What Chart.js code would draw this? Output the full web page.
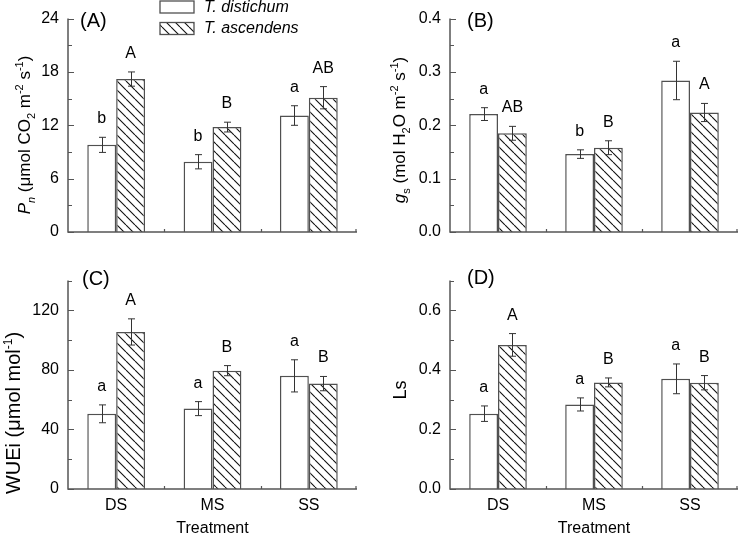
<!DOCTYPE html>
<html>
<head>
<meta charset="utf-8">
<script src="https://cdn.jsdelivr.net/npm/chart.js@4"></script>
<style>
html,body{margin:0;padding:0;background:#fff;width:739px;height:535px;overflow:hidden;}
canvas{position:absolute;}
</style>
</head>
<body>
<canvas id="cA" width="370" height="262" style="left:0;top:0;width:370px;height:262px"></canvas>
<canvas id="cB" width="369" height="262" style="left:370px;top:0;width:369px;height:262px"></canvas>
<canvas id="cC" width="370" height="273" style="left:0;top:262px;width:370px;height:273px"></canvas>
<canvas id="cD" width="369" height="273" style="left:370px;top:262px;width:369px;height:273px"></canvas>
<script>
// ---------------- data ----------------
const treatments = ['DS', 'MS', 'SS'];
const speciesNames = ['T. distichum', 'T. ascendens'];
const xAxisTitle = 'Treatment';

// (A) Net photosynthetic rate Pn
const pnDistichum = [9.8, 7.9, 13.1];
const pnDistichumSE = [0.85, 0.8, 1.1];
const pnAscendens = [17.2, 11.8, 15.1];
const pnAscendensSE = [0.8, 0.55, 1.25];
const pnDistichumLetters = ['b', 'b', 'a'];
const pnAscendensLetters = ['A', 'B', 'AB'];
const pnTicks = [0, 6, 12, 18, 24];
const pnMax = 24;

// (B) Stomatal conductance gs
const gsDistichum = [0.221, 0.146, 0.284];
const gsDistichumSE = [0.012, 0.008, 0.036];
const gsAscendens = [0.185, 0.158, 0.224];
const gsAscendensSE = [0.013, 0.013, 0.017];
const gsDistichumLetters = ['a', 'b', 'a'];
const gsAscendensLetters = ['AB', 'B', 'A'];
const gsTicks = [0, 0.1, 0.2, 0.3, 0.4];
const gsMax = 0.4;

// (C) Intrinsic water use efficiency WUEi
const wueDistichum = [50.5, 54, 76];
const wueDistichumSE = [6, 4.7, 10.8];
const wueAscendens = [105.5, 79.5, 70.8];
const wueAscendensSE = [8.8, 3.4, 4.8];
const wueDistichumLetters = ['a', 'a', 'a'];
const wueAscendensLetters = ['A', 'B', 'B'];
const wueTicks = [0, 40, 80, 120];
const wueMax = 140;

// (D) Stomatal limitation Ls
const lsDistichum = [0.253, 0.284, 0.37];
const lsDistichumSE = [0.026, 0.022, 0.05];
const lsAscendens = [0.484, 0.358, 0.357];
const lsAscendensSE = [0.038, 0.015, 0.024];
const lsDistichumLetters = ['a', 'a', 'a'];
const lsAscendensLetters = ['A', 'B', 'B'];
const lsTicks = [0, 0.2, 0.4, 0.6];
const lsMax = 0.7;

// ---------------- styling ----------------
const FONT = '"Liberation Sans", Arial, Helvetica, sans-serif';
const EDGE = '#505050';
const AXIS = '#555555';
Chart.defaults.font.family = FONT;
Chart.defaults.color = '#000';

function makeHatch() {
  const s = 9;
  const c = document.createElement('canvas');
  c.width = s; c.height = s;
  const g = c.getContext('2d');
  g.fillStyle = '#fff';
  g.fillRect(0, 0, s, s);
  g.strokeStyle = '#111';
  g.lineWidth = 1.1;
  g.beginPath();
  for (let k = -1; k <= 1; k++) {
    g.moveTo(k * s, 0);
    g.lineTo(k * s + s, s);
  }
  g.stroke();
  return g.createPattern(c, 'repeat');
}
const hatch = makeHatch();

function fontStr(seg, size) {
  return (seg.i ? 'italic ' : '') + size + 'px ' + FONT;
}

function drawRich(ctx, segs, cx, cy, size) {
  ctx.save();
  ctx.translate(cx, cy);
  ctx.rotate(-Math.PI / 2);
  const small = Math.round(size * 0.62);
  let w = 0;
  const widths = segs.map(s => {
    ctx.font = fontStr(s, (s.sub || s.sup) ? small : size);
    const m = ctx.measureText(s.t).width;
    w += m;
    return m;
  });
  let x = -w / 2;
  const base = size * 0.36;
  ctx.textAlign = 'left';
  ctx.textBaseline = 'alphabetic';
  ctx.fillStyle = '#000';
  segs.forEach((s, k) => {
    ctx.font = fontStr(s, (s.sub || s.sup) ? small : size);
    const dy = s.sub ? size * 0.28 : (s.sup ? -size * 0.42 : 0);
    ctx.fillText(s.t, x, base + dy);
    x += widths[k];
  });
  ctx.restore();
}

function makeDecor(p) {
  return {
    id: 'decor' + p.tag,
    afterDraw(chart) {
      const ctx = chart.ctx;
      const xs = chart.scales.x, ys = chart.scales.y;
      const a = chart.chartArea;
      ctx.save();
      // error bars and significance letters
      chart.data.datasets.forEach((ds, di) => {
        const meta = chart.getDatasetMeta(di);
        meta.data.forEach((bar, i) => {
          const v = ds.data[i], e = ds.errors[i];
          const yt = ys.getPixelForValue(v + e);
          const yb = ys.getPixelForValue(v - e);
          const x = Math.round(bar.x) + 0.5;
          ctx.strokeStyle = '#333';
          ctx.lineWidth = 1;
          ctx.beginPath();
          ctx.moveTo(x, yt); ctx.lineTo(x, yb);
          ctx.moveTo(x - 3.5, yt); ctx.lineTo(x + 3.5, yt);
          ctx.moveTo(x - 3.5, yb); ctx.lineTo(x + 3.5, yb);
          ctx.stroke();
          ctx.fillStyle = '#000';
          ctx.font = '16px ' + FONT;
          ctx.textAlign = 'center';
          ctx.textBaseline = 'alphabetic';
          ctx.fillText(ds.letters[i], bar.x, yt - 14);
        });
      });
      // axis lines
      ctx.strokeStyle = AXIS;
      ctx.lineWidth = 1.5;
      ctx.beginPath();
      ctx.moveTo(a.left, a.top);
      ctx.lineTo(a.left, a.bottom);
      ctx.lineTo(a.right, a.bottom);
      ctx.stroke();
      // inward y ticks (major + minor)
      ctx.lineWidth = 1.2;
      const step = (p.ticks[1] - p.ticks[0]) / 2;
      ctx.beginPath();
      for (let k = 0; k * step <= p.max + 1e-9; k++) {
        const py = Math.round(ys.getPixelForValue(k * step)) + 0.5;
        const len = (k % 2 === 0) ? 6 : 4;
        ctx.moveTo(a.left, py);
        ctx.lineTo(a.left + len, py);
      }
      // small inward x ticks at group boundaries
      const n = chart.data.labels.length;
      for (let i = 0; i < n; i++) {
        const bx = i < n - 1 ? Math.round((xs.getPixelForValue(i) + xs.getPixelForValue(i + 1)) / 2) + 0.5 : a.right - 1;
        ctx.moveTo(bx, a.bottom);
        ctx.lineTo(bx, a.bottom - 3);
      }
      ctx.stroke();
      // y axis title
      drawRich(ctx, p.ytitle, p.titleX, p.titleY, p.titleSize);
      // panel label
      ctx.fillStyle = '#000';
      ctx.font = '20px ' + FONT;
      ctx.textAlign = 'left';
      ctx.textBaseline = 'middle';
      ctx.fillText(p.label, p.labelX, p.labelY);
      // legend
      if (p.legend) {
        chart.data.datasets.forEach((ds, di) => {
          const by = 1 + di * 21.5;
          ctx.fillStyle = ds.backgroundColor;
          ctx.fillRect(160, by, 34, 12);
          ctx.strokeStyle = EDGE;
          ctx.lineWidth = 1.3;
          ctx.strokeRect(160, by, 34, 12);
          ctx.fillStyle = '#000';
          ctx.font = 'italic 16px ' + FONT;
          ctx.textAlign = 'left';
          ctx.textBaseline = 'middle';
          ctx.fillText(ds.label, 204, by + 6.5);
        });
      }
      ctx.restore();
    }
  };
}

function makePanel(id, p) {
  return new Chart(document.getElementById(id), {
    type: 'bar',
    data: {
      labels: treatments,
      datasets: [
        { label: speciesNames[0], data: p.d1, errors: p.e1, letters: p.l1,
          backgroundColor: '#ffffff', borderColor: EDGE, borderWidth: 1.5, borderSkipped: 'bottom' },
        { label: speciesNames[1], data: p.d2, errors: p.e2, letters: p.l2,
          backgroundColor: hatch, borderColor: EDGE, borderWidth: 1.5, borderSkipped: 'bottom' }
      ]
    },
    options: {
      responsive: false,
      animation: false,
      devicePixelRatio: 1,
      layout: { padding: { left: 0, right: p.padRight, top: p.padTop, bottom: 0 } },
      datasets: { bar: { categoryPercentage: 0.6, barPercentage: 1.0 } },
      plugins: { legend: { display: false }, tooltip: { enabled: false } },
      scales: {
        x: {
          grid: { display: false, drawTicks: false },
          border: { display: false },
          ticks: { display: p.bottom, padding: 7, color: '#000', font: { size: 16 } },
          title: { display: p.bottom, text: xAxisTitle, color: '#000', font: { size: 16, lineHeight: 0.8 }, padding: { top: 0, bottom: 0 } },
          afterFit: s => { s.height = p.xH; }
        },
        y: {
          min: 0, max: p.max,
          grid: { display: false, drawTicks: false },
          border: { display: false },
          ticks: { padding: 9, color: '#000', font: { size: 16 }, callback: v => p.fmt(v) },
          afterBuildTicks: s => { s.ticks = p.ticks.map(v => ({ value: v })); },
          afterFit: s => { s.width = p.yW; }
        }
      }
    },
    plugins: [makeDecor(p)]
  });
}

const intFmt = v => String(Math.round(v));
const oneDec = v => Number(v).toFixed(1);

makePanel('cA', {
  tag: 'A', d1: pnDistichum, e1: pnDistichumSE, l1: pnDistichumLetters,
  d2: pnAscendens, e2: pnAscendensSE, l2: pnAscendensLetters,
  ticks: pnTicks, max: pnMax, fmt: intFmt,
  yW: 68, padRight: 13, padTop: 10, xH: 30, bottom: false,
  ytitle: [{ t: 'P', i: true }, { t: 'n', i: true, sub: true }, { t: ' (\u03bcmol CO' }, { t: '2', sub: true },
           { t: ' m' }, { t: '-2', sup: true }, { t: ' s' }, { t: '-1', sup: true }, { t: ')' }],
  titleX: 24, titleY: 135, titleSize: 17, label: '(A)', labelX: 80, labelY: 21, legend: true
});
makePanel('cB', {
  tag: 'B', d1: gsDistichum, e1: gsDistichumSE, l1: gsDistichumLetters,
  d2: gsAscendens, e2: gsAscendensSE, l2: gsAscendensLetters,
  ticks: gsTicks, max: gsMax, fmt: oneDec,
  yW: 80, padRight: 1, padTop: 10, xH: 30, bottom: false,
  ytitle: [{ t: 'g', i: true }, { t: 's', sub: true }, { t: ' (mol H' }, { t: '2', sub: true },
           { t: 'O m' }, { t: '-2', sup: true }, { t: ' s' }, { t: '-1', sup: true }, { t: ')' }],
  titleX: 29, titleY: 130, titleSize: 17, label: '(B)', labelX: 97, labelY: 21, legend: false
});
makePanel('cC', {
  tag: 'C', d1: wueDistichum, e1: wueDistichumSE, l1: wueDistichumLetters,
  d2: wueAscendens, e2: wueAscendensSE, l2: wueAscendensLetters,
  ticks: wueTicks, max: wueMax, fmt: intFmt,
  yW: 68, padRight: 13, padTop: 6, xH: 46, bottom: true,
  ytitle: [{ t: 'WUEi (\u03bcmol mol' }, { t: '-1', sup: true }, { t: ')' }],
  titleX: 13, titleY: 151, titleSize: 20, label: '(C)', labelX: 82, labelY: 17, legend: false
});
makePanel('cD', {
  tag: 'D', d1: lsDistichum, e1: lsDistichumSE, l1: lsDistichumLetters,
  d2: lsAscendens, e2: lsAscendensSE, l2: lsAscendensLetters,
  ticks: lsTicks, max: lsMax, fmt: oneDec,
  yW: 80, padRight: 1, padTop: 6, xH: 46, bottom: true,
  ytitle: [{ t: 'Ls' }],
  titleX: 30, titleY: 128, titleSize: 18, label: '(D)', labelX: 97, labelY: 16, legend: false
});
</script>
</body>
</html>
